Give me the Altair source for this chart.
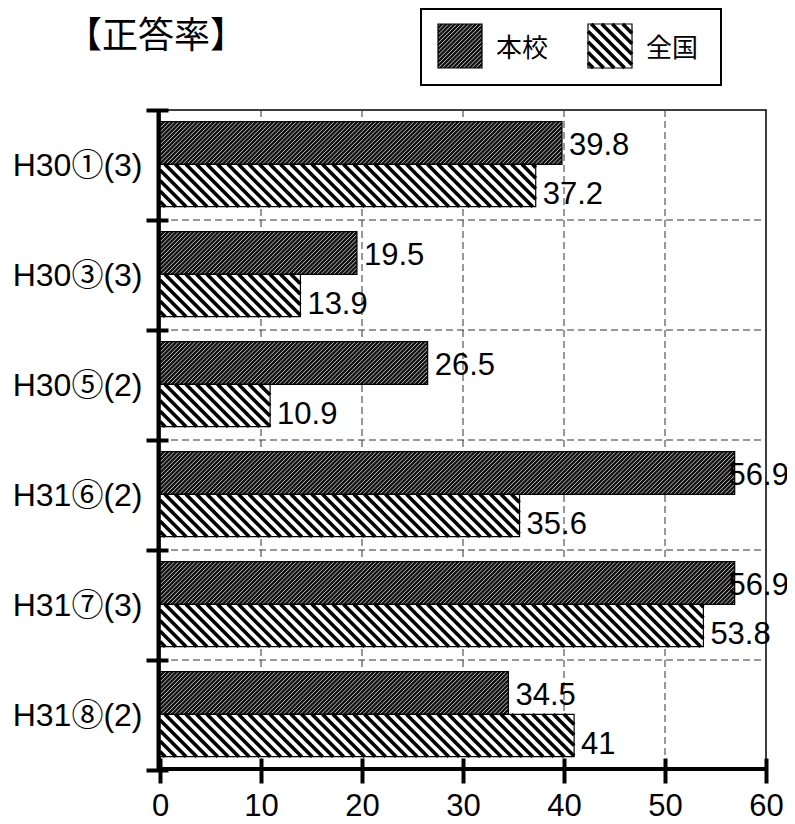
import json
import altair as alt
import pandas as pd

# ---------------- data ----------------
categories = ["H30①(3)", "H30③(3)", "H30⑤(2)", "H31⑥(2)", "H31⑦(3)", "H31⑧(2)"]
school = [39.8, 19.5, 26.5, 56.9, 56.9, 34.5]
national = [37.2, 13.9, 10.9, 35.6, 53.8, 41.0]
series = ["本校", "全国"]
x_ticks = [0, 10, 20, 30, 40, 50, 60]
chart_title = "【正答率】"

# ---------------- layout ----------------
W, H = 606, 660
XMAX = x_ticks[-1]
N = len(categories)
XPU = W / XMAX
YPU = H / N

slots = {"本校": (0.106, 0.494), "全国": (0.494, 0.879)}
label_pos = {"本校": 0.33, "全国": 0.77}
hatch_style = {"本校": (4.2, "/"), "全国": (10.5, "\\")}
LABEL_XCAP = 55.6

rows = []
for i, cat in enumerate(categories):
    for s, vals in zip(series, [school, national]):
        v = vals[i]
        rows.append(dict(cat=cat, idx=i, series=s, value=v,
                         y0=i + slots[s][0], y1=i + slots[s][1],
                         ly=i + label_pos[s], label=f"{v:g}"))
bars = pd.DataFrame(rows)


def hatch_segments(px0, px1, py0, py1, period, direction):
    w, h = px1 - px0, py1 - py0
    out = []
    if direction == "/":
        c = period / 2
        while c < w + h:
            xa, xb = max(0.0, c - h), min(w, c)
            if xb > xa:
                out.append((px0 + xa, py0 + (c - xa), px0 + xb, py0 + (c - xb)))
            c += period
    else:
        c = -h + period / 2
        while c < w:
            xa, xb = max(0.0, c), min(w, c + h)
            if xb > xa:
                out.append((px0 + xa, py0 + (xa - c), px0 + xb, py0 + (xb - c)))
            c += period
    return out


# legend geometry (pixels, relative to plot origin)
LEG_X0, LEG_DX, LEG_Y0, SW = 278, 150, -86, 44

hrows = []
for _, r in bars.iterrows():
    period, d = hatch_style[r.series]
    for a, b, c2, d2 in hatch_segments(0, r.value * XPU, r.y0 * YPU, r.y1 * YPU, period, d):
        hrows.append(dict(series=r.series, x=a / XPU, y=b / YPU, x2=c2 / XPU, y2=d2 / YPU))
for k, s in enumerate(series):
    period, d = hatch_style[s]
    lx = LEG_X0 + k * LEG_DX
    for a, b, c2, d2 in hatch_segments(lx, lx + SW, LEG_Y0, LEG_Y0 + SW, period, d):
        hrows.append(dict(series=s, x=a / XPU, y=b / YPU, x2=c2 / XPU, y2=d2 / YPU))
hatch = pd.DataFrame(hrows)

legend_df = pd.DataFrame({
    "name": series,
    "sx": [(LEG_X0 + k * LEG_DX) / XPU for k in range(len(series))],
    "sx2": [(LEG_X0 + k * LEG_DX + SW) / XPU for k in range(len(series))],
    "tx": [(LEG_X0 + k * LEG_DX + SW + 14) / XPU for k in range(len(series))],
})
legend_df["sy"] = LEG_Y0 / YPU
legend_df["sy2"] = (LEG_Y0 + SW) / YPU
legend_df["ty"] = (LEG_Y0 + SW / 2 + 3) / YPU

# ---------------- scales / axes ----------------
xs = alt.Scale(domain=[0, XMAX], nice=False, zero=False)
ys = alt.Scale(domain=[0, N], nice=False, reverse=True, zero=False)

LATIN = "Liberation Sans"
MIXED = "Liberation Sans, Noto Sans CJK JP"
CJK = "Noto Sans CJK JP"

xaxis = alt.Axis(values=x_ticks, offset=-12, tickSize=25, tickWidth=4, tickColor="black",
                 domain=False, grid=False, labelPadding=8, labelFontSize=31, labelFont=LATIN,
                 labelColor="black", labelFlush=False, title=None, format="d",
                 labelOverlap=False, zindex=1)
yaxis = alt.Axis(values=list(range(N + 1)),
                 labelExpr=f"datum.value < {N} ? {json.dumps(categories, ensure_ascii=False)}[datum.value] : ''",
                 labelOffset=YPU / 2, offset=-8, tickSize=22, tickWidth=4, tickColor="black",
                 domain=False, grid=False, labelPadding=4, labelFontSize=32, labelFont=MIXED,
                 labelColor="black", labelFlush=False, labelBaseline="middle", title=None,
                 labelOverlap=False, zindex=1)


def X(field, **kw):
    return alt.X(field, scale=xs, axis=xaxis, **kw)


def Y(field, **kw):
    return alt.Y(field, scale=ys, axis=yaxis, **kw)


one = pd.DataFrame({"a": [0]})
dash = [7, 4]
GRID = "#333333"

grid_v = alt.Chart(pd.DataFrame({"v": x_ticks[1:-1]})).mark_rule(
    color=GRID, strokeWidth=1, strokeDash=dash).encode(
    x=X("v:Q"), y=alt.value(0), y2=alt.value(H))
grid_h = alt.Chart(pd.DataFrame({"v": list(range(1, N))})).mark_rule(
    color=GRID, strokeWidth=1, strokeDash=dash).encode(
    y=Y("v:Q"), x=alt.value(0), x2=alt.value(W))

fills = alt.Chart(bars).mark_rect().encode(
    x=X("value:Q"), x2=alt.datum(0),
    y=Y("y0:Q"), y2="y1:Q",
    color=alt.Color("series:N", scale=alt.Scale(domain=series, range=["#111111", "#ffffff"]),
                    legend=None))

h_school = alt.Chart(hatch).transform_filter(alt.datum.series == series[0]).mark_rule(
    color="#d4d4d4", strokeWidth=0.9).encode(
    x=X("x:Q"), x2="x2:Q", y=Y("y:Q"), y2="y2:Q")
h_nat = alt.Chart(hatch).transform_filter(alt.datum.series == series[1]).mark_rule(
    color="black", strokeWidth=3.6).encode(
    x=X("x:Q"), x2="x2:Q", y=Y("y:Q"), y2="y2:Q")

outlines = alt.Chart(bars).mark_rect(fill="white", fillOpacity=0, stroke="black", strokeWidth=1.2).encode(
    x=X("value:Q"), x2=alt.datum(0), y=Y("y0:Q"), y2="y1:Q")

labels = alt.Chart(bars).transform_calculate(
    lx=f"min(datum.value, {LABEL_XCAP})").mark_text(
    align="left", baseline="middle", dx=7, fontSize=31, font=LATIN, color="black").encode(
    x=X("lx:Q"), y=Y("ly:Q"), text="label:N")

left_line = alt.Chart(one).mark_rule(color="black", strokeWidth=4).encode(
    x=alt.value(-1.5), y=alt.value(-1), y2=alt.value(H + 1))
bottom_line = alt.Chart(one).mark_rule(color="black", strokeWidth=4).encode(
    y=alt.value(H - 1), x=alt.value(-1.5), x2=alt.value(W))

title_mark = alt.Chart(pd.DataFrame({"t": [chart_title]})).mark_text(
    font=CJK, fontSize=36, align="center", baseline="middle", color="black").encode(
    x=alt.value(-4), y=alt.value(-73), text="t:N")

legend_box = alt.Chart(one).mark_rect(fill="white", stroke="black", strokeWidth=2).encode(
    x=alt.value(261), x2=alt.value(561), y=alt.value(-101), y2=alt.value(-25))
leg_fill = alt.Chart(legend_df).mark_rect().encode(
    x=X("sx:Q"), x2="sx2:Q", y=Y("sy:Q"), y2="sy2:Q",
    color=alt.Color("name:N", scale=alt.Scale(domain=series, range=["#111111", "#ffffff"]),
                    legend=None))
leg_outline = alt.Chart(legend_df).mark_rect(fill="white", fillOpacity=0, stroke="black", strokeWidth=1.2).encode(
    x=X("sx:Q"), x2="sx2:Q", y=Y("sy:Q"), y2="sy2:Q")
leg_text = alt.Chart(legend_df).mark_text(
    font=CJK, fontSize=26, align="left", baseline="middle", color="black").encode(
    x=X("tx:Q"), y=Y("ty:Q"), text="name:N")

chart = alt.layer(
    grid_v, grid_h, fills, h_school, h_nat, outlines, labels, left_line, bottom_line,
    title_mark, legend_box, leg_fill, h_school.transform_filter("datum.y < 0"),
    h_nat.transform_filter("datum.y < 0"), leg_outline, leg_text
).properties(
    width=W, height=H,
    padding={"left": 152, "top": 102, "right": 21, "bottom": 48},
    autosize=alt.AutoSizeParams(type="none"),
).configure_view(stroke="black", strokeWidth=1.5)

chart.save("out.html", embed_options={"renderer": "svg", "actions": False})
